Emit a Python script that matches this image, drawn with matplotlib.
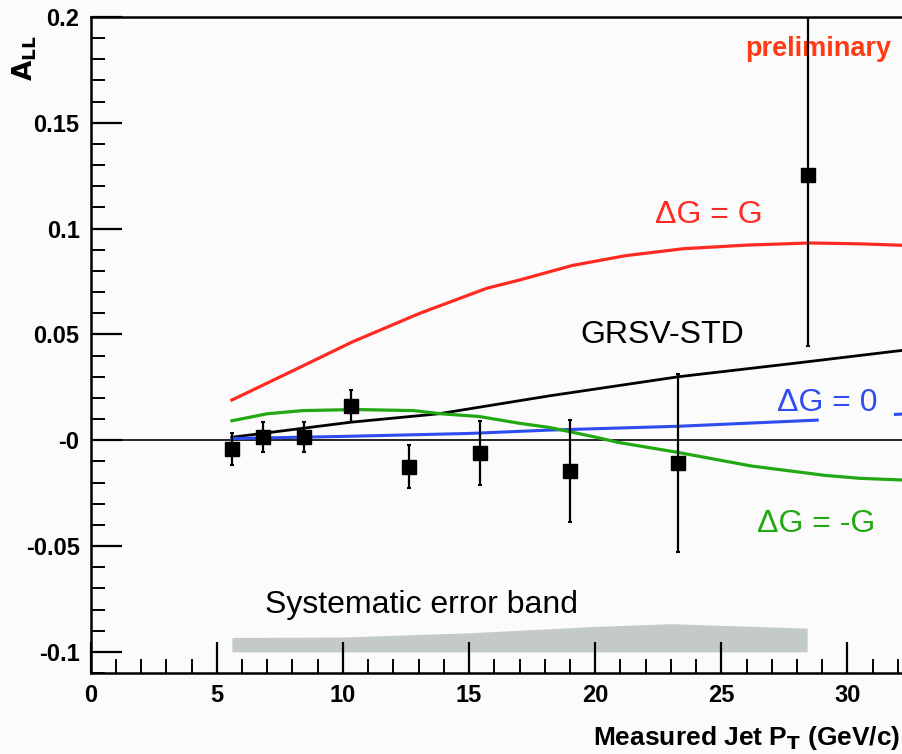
import matplotlib
matplotlib.use("Agg")
import matplotlib.pyplot as plt
from matplotlib.ticker import MultipleLocator
import numpy as np

plt.rcParams['font.family'] = ['Liberation Sans', 'DejaVu Sans']

# ---- data ----
pt = [5.6, 6.85, 8.45, 10.3, 12.6, 15.45, 19.0, 23.3, 28.45]
all_vals = [-0.004, 0.0015, 0.0015, 0.016, -0.0125, -0.006, -0.0145, -0.0108, 0.1255]
all_err = [0.0075, 0.0072, 0.007, 0.0075, 0.0102, 0.015, 0.024, 0.042, 0.081]

red_x = [5.6, 7.8, 10.4, 13.05, 15.7, 17.0, 19.1, 21.2, 23.5, 26.0, 28.5, 30.5, 32.2]
red_y = [0.019, 0.0316, 0.0466, 0.060, 0.0718, 0.0757, 0.0826, 0.0872, 0.0905, 0.0922,
         0.0932, 0.0928, 0.0921]

std_x = [5.6, 10.3, 13.8, 18.2, 23.3, 28.0, 32.2]
std_y = [0.0014, 0.0085, 0.0125, 0.021, 0.0300, 0.0365, 0.0425]

zero_x = [5.6, 10.0, 15.0, 18.2, 23.3, 28.8, np.nan, 31.9, 32.2]
zero_y = [0.0008, 0.0018, 0.0032, 0.0048, 0.0066, 0.0095, np.nan, 0.0122, 0.0124]

neg_x = [5.6, 7.0, 8.4, 10.5, 12.8, 13.9, 15.4, 17.0, 18.2, 20.0, 20.9, 23.3, 26.2, 29.1, 30.5, 32.2]
neg_y = [0.0092, 0.0125, 0.014, 0.0145, 0.014, 0.0125, 0.0112, 0.008, 0.006, 0.0015, -0.001,
         -0.0058, -0.0122, -0.0166, -0.018, -0.0188]

band_x = [5.6, 10.0, 15.0, 20.0, 23.0, 28.4]
band_lo = [-0.1, -0.1, -0.1, -0.1, -0.1, -0.1]
band_hi = [-0.0932, -0.093, -0.091, -0.088, -0.0867, -0.0888]

xtick_vals = [0, 5, 10, 15, 20, 25, 30]
xtick_labels = ['0', '5', '10', '15', '20', '25', '30']
ytick_vals = [-0.1, -0.05, 0.0, 0.05, 0.1, 0.15, 0.2]
ytick_labels = ['-0.1', '-0.05', '-0', '0.05', '0.1', '0.15', '0.2']

# ---- figure ----
fig = plt.figure(figsize=(9.03, 7.54), dpi=100, facecolor='#fbfbfb')
ax = fig.add_axes([0.1004, 0.1074, 0.8996, 0.8701])
ax.set_facecolor('#fbfbfb')
ax.set_xlim(0, 32.2)
ax.set_ylim(-0.11, 0.2)

ax.axhline(0, color='black', lw=1.2, zorder=2)

ax.fill_between(band_x, band_lo, band_hi, color='#c4c9c9', lw=0, zorder=1)

ax.plot(red_x, red_y, color='#ff2a22', lw=2.3, zorder=3, solid_joinstyle='round')
ax.plot(std_x, std_y, color='black', lw=2.0, zorder=3, solid_joinstyle='round')
ax.plot(zero_x, zero_y, color='#2f4cf0', lw=2.2, zorder=3, solid_joinstyle='round')
ax.plot(neg_x, neg_y, color='#22a812', lw=2.3, zorder=3, solid_joinstyle='round')

ax.errorbar(pt, all_vals, yerr=all_err, fmt='s', color='black', ms=9.5,
            elinewidth=1.6, capsize=1.5, capthick=1.5, zorder=5, clip_on=True)

# texts
ax.text(25.93, 0.1816, 'preliminary', color='#ff3a14', fontsize=19.5, fontweight='bold',
        ha='left', va='baseline')
ax.text(22.37, 0.1026, 'ΔG = G', color='#ff2a22', fontsize=23, ha='left', va='baseline')
ax.text(19.4, 0.046, 'GRSV-STD', color='black', fontsize=23, ha='left', va='baseline')
ax.text(27.2, 0.0137, 'ΔG = 0', color='#2f4cf0', fontsize=23, ha='left', va='baseline')
ax.text(26.4, -0.0433, 'ΔG = -G', color='#22a812', fontsize=23, ha='left', va='baseline')
ax.text(6.91, -0.0817, 'Systematic error band', color='black', fontsize=23,
        ha='left', va='baseline')

# axes styling
for s in ['left', 'bottom', 'top']:
    ax.spines[s].set_linewidth(1.8)
ax.spines['right'].set_visible(False)

ax.set_xticks(xtick_vals, labels=xtick_labels)
ax.set_yticks(ytick_vals, labels=ytick_labels)
ax.xaxis.set_minor_locator(MultipleLocator(1))
ax.yaxis.set_minor_locator(MultipleLocator(0.01))
ax.tick_params(which='major', direction='in', length=22, width=1.6, labelsize=17, pad=8)
ax.tick_params(which='minor', direction='in', length=10, width=1.4)
ax.tick_params(axis='y', which='both', left=True, right=False)
ax.tick_params(axis='x', which='both', bottom=True, top=False)
for lab in ax.get_xticklabels() + ax.get_yticklabels():
    lab.set_fontweight('bold')

fig.text(0.9967, 1 - 738 / 754, r'Measured Jet P$_{\mathbf{T}}$ (GeV/c)', fontsize=19,
         fontweight='bold', ha='right', va='center')
fig.text(25 / 903, 1 - 58 / 754, r'$\mathbf{A_{LL}}$', fontsize=19, rotation=90,
         ha='center', va='center')

fig.savefig('out.png', dpi=100, facecolor=fig.get_facecolor())
